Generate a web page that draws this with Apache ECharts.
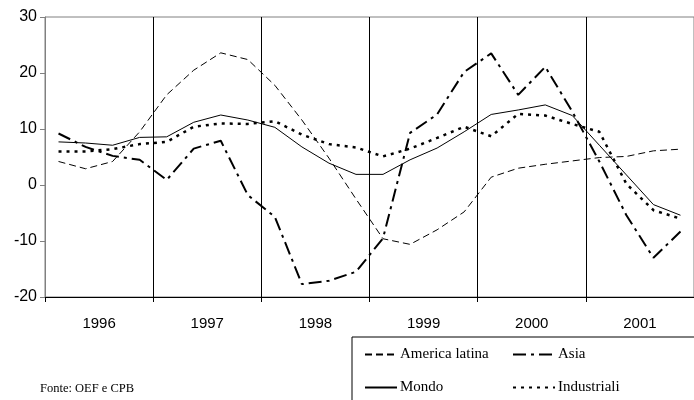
<!DOCTYPE html>
<html>
<head>
<meta charset="utf-8">
<script src="https://cdn.jsdelivr.net/npm/echarts@6/dist/echarts.min.js"></script>
<style>
  html, body { margin: 0; padding: 0; background: #fff; }
  #chart { width: 694px; height: 400px; }
</style>
</head>
<body>
<div id="chart"></div>
<script>
//--------------------------------
// Data
//--------------------------------
const years = ['1996', '1997', '1998', '1999', '2000', '2001'];
const quarters = [];
for (const y of years) {
    for (let q = 1; q <= 4; q++) quarters.push(y + ' T' + q);
}

const americaLatina = [4.2, 2.9, 4.2, 9.5, 16.1, 20.5, 23.6, 22.4, 17.8, 11.6, 4.8, -2.5,
    -9.6, -10.6, -8.0, -4.8, 1.4, 3.0, 3.7, 4.3, 4.9, 5.1, 6.1, 6.4];
const asia = [9.2, 6.8, 5.2, 4.5, 0.9, 6.5, 7.9, -1.8, -5.7, -17.7, -17.1, -15.5,
    -9.5, 9.3, 12.6, 20.2, 23.5, 16.1, 21.1, 13.1, 4.2, -5.4, -13.0, -8.3];
const mondo = [7.7, 7.5, 7.1, 8.5, 8.6, 11.2, 12.5, 11.6, 10.3, 6.8, 3.9, 1.9,
    1.9, 4.5, 6.6, 9.5, 12.6, 13.4, 14.3, 12.4, 7.1, 1.8, -3.5, -5.4];
const industriali = [6.0, 6.0, 6.4, 7.3, 7.7, 10.4, 11.0, 10.9, 11.4, 9.0, 7.3, 6.7,
    5.1, 6.5, 8.4, 10.4, 8.7, 12.7, 12.4, 10.9, 9.5, 0.2, -4.5, -6.0];

//--------------------------------
// Chart
//--------------------------------
const myChart = echarts.init(document.getElementById('chart'));

const legendText = { color: '#000', fontFamily: 'Liberation Serif', fontSize: 15, padding: [0, 0, 0, -2] };

const options = {
    animation: false,
    backgroundColor: '#fff',
    grid: {
        left: 45,
        top: 17,
        width: 659,
        height: 280,
        show: true,
        borderColor: '#808080',
        borderWidth: 1
    },
    legend: [
        {
            data: ['America latina', 'Mondo'],
            orient: 'vertical',
            left: 364,
            top: 347,
            padding: 0,
            itemWidth: 32,
            itemHeight: 10,
            itemGap: 18,
            itemStyle: { opacity: 0 },
            textStyle: legendText
        },
        {
            data: ['Asia', 'Industriali'],
            orient: 'vertical',
            left: 512,
            top: 347,
            padding: 0,
            itemWidth: 42,
            itemHeight: 10,
            itemGap: 18,
            itemStyle: { opacity: 0 },
            textStyle: legendText
        }
    ],
    xAxis: [
        {
            type: 'category',
            data: quarters,
            boundaryGap: true,
            show: false
        },
        {
            type: 'category',
            data: years,
            boundaryGap: true,
            position: 'bottom',
            axisLine: { lineStyle: { color: '#000', width: 1 } },
            axisTick: { show: true, length: 5, lineStyle: { color: '#000' } },
            axisLabel: { color: '#000', fontFamily: 'Liberation Sans', fontSize: 15, margin: 19 },
            splitLine: { show: true, lineStyle: { color: '#000', width: 1 } }
        }
    ],
    yAxis: {
        type: 'value',
        min: -20,
        max: 30,
        interval: 10,
        axisLine: { show: true, lineStyle: { color: '#808080' } },
        axisTick: { show: true, length: 5, lineStyle: { color: '#808080' } },
        axisLabel: { color: '#000', fontFamily: 'Liberation Sans', fontSize: 16, margin: 8 },
        splitLine: { show: false }
    },
    graphic: [
        {
            type: 'rect',
            shape: { x: 352, y: 337, width: 360, height: 80 },
            style: { fill: 'none', stroke: '#000', lineWidth: 1 },
            z: 1
        },
        {
            type: 'text',
            left: 40,
            top: 382,
            style: {
                text: 'Fonte: OEF e CPB',
                fill: '#000',
                font: '12.5px "Liberation Serif"'
            }
        }
    ],
    series: [
        {
            name: 'America latina',
            type: 'line',
            xAxisIndex: 0,
            data: americaLatina,
            symbol: 'none',
            itemStyle: { color: '#000' },
            lineStyle: { color: '#000', width: 1, type: [7, 4] }
        },
        {
            name: 'Asia',
            type: 'line',
            xAxisIndex: 0,
            data: asia,
            symbol: 'none',
            itemStyle: { color: '#000' },
            lineStyle: { color: '#000', width: 2, type: [13, 5, 3, 5] }
        },
        {
            name: 'Mondo',
            type: 'line',
            xAxisIndex: 0,
            data: mondo,
            symbol: 'none',
            itemStyle: { color: '#000' },
            lineStyle: { color: '#000', width: 1 }
        },
        {
            name: 'Industriali',
            type: 'line',
            xAxisIndex: 0,
            data: industriali,
            symbol: 'none',
            itemStyle: { color: '#000' },
            lineStyle: { color: '#000', width: 2.5, type: [3, 5] }
        }
    ]
};

myChart.setOption(options);
</script>
</body>
</html>
